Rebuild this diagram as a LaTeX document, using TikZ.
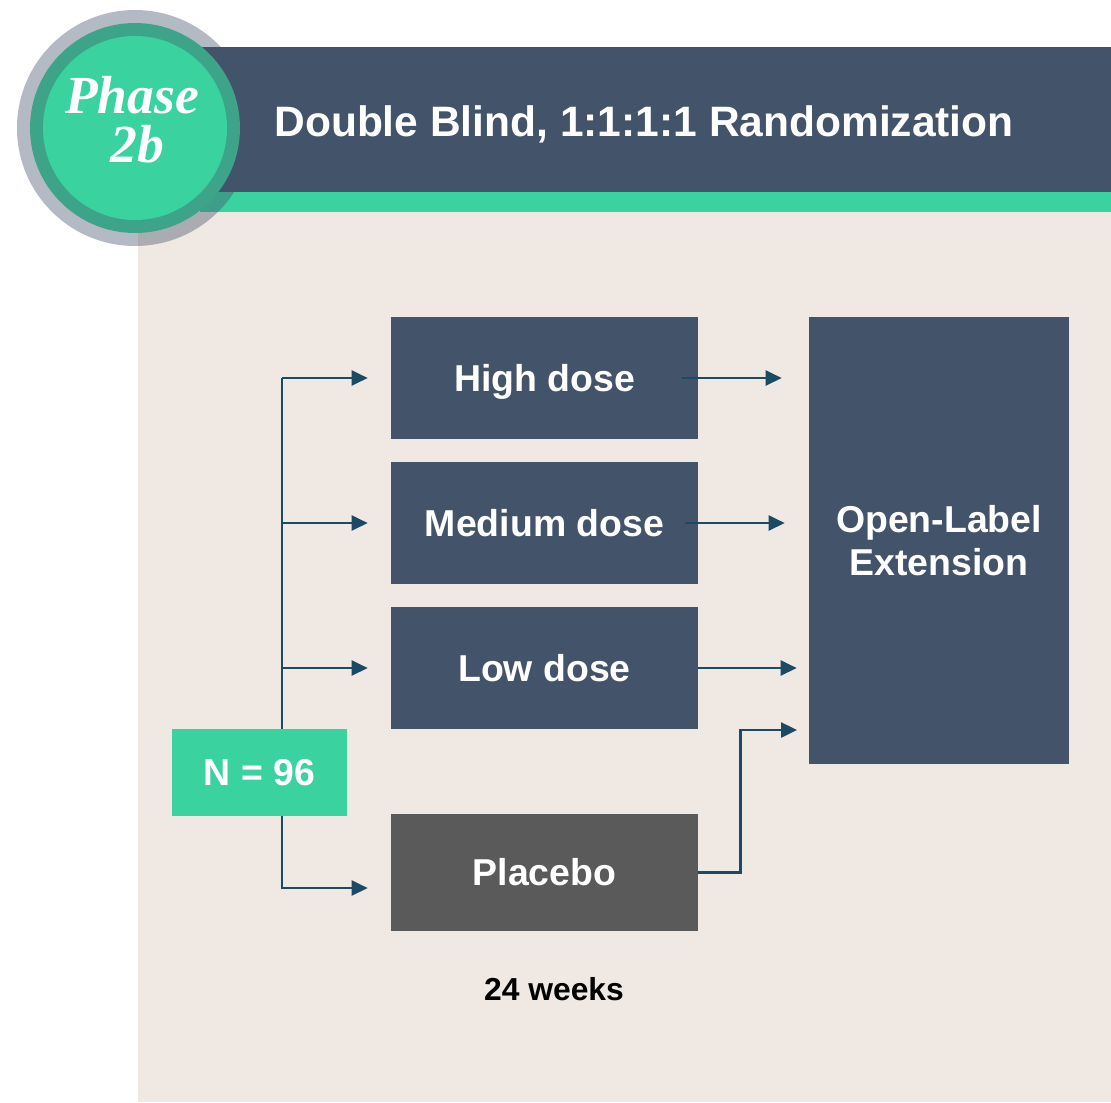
\documentclass[tikz,border=0pt]{standalone}
\usepackage{fontspec}
\setmainfont{Liberation Sans}
\newfontfamily\phasefont{Liberation Serif}
\usetikzlibrary{arrows.meta}
\definecolor{slate}{RGB}{67,83,105}
\definecolor{mint}{RGB}{58,210,159}
\definecolor{deepmint}{RGB}{61,164,138}
\definecolor{sand}{RGB}{239,232,227}
\definecolor{ink}{RGB}{26,74,100}
\definecolor{placebogray}{RGB}{90,90,90}

\tikzset{
  dosebox/.style={fill=slate, text=white, minimum width=6.14cm, minimum height=2.44cm,
    inner sep=0pt, text height=15.25pt, text depth=0pt,
    font=\bfseries\fontsize{21.3}{25}\selectfont},
  link/.style={draw=ink, line width=1.4pt},
  arr/.style={link, -{Triangle[length=0.32cm,width=0.3cm]}},
}

\begin{document}
\begin{tikzpicture}[x=0.02cm, y=-0.02cm]
    \useasboundingbox (0,0) rectangle (1111,1102);
    % fond
    \fill[white] (0,0) rectangle (1111,1102);
    \fill[sand] (138,212) rectangle (1111,1102);
    % bandeau du haut
    \fill[slate] (200,47) rectangle (1111,192);
    \fill[mint] (200,192) rectangle (1111,212);
    \node[anchor=base west, text=white, inner sep=0pt, font=\bfseries\fontsize{24.2}{29}\selectfont]
        (title) at (274,136) {Double Blind, 1:1:1:1 Randomization};
    % pastille
    \fill[slate, opacity=0.4] (135,128) circle (118);
    \fill[deepmint] (135,128) circle (105);
    \fill[mint] (135,128) circle (92);
    \node[anchor=base, text=white, inner sep=0pt, font=\phasefont\bfseries\itshape\fontsize{30.5}{32}\selectfont]
        (phase) at (132,113) {Phase};
    \node[anchor=base, text=white, inner sep=0pt, font=\phasefont\bfseries\itshape\fontsize{30.5}{32}\selectfont]
        (twob) at (137,162) {2b};

    % les bras
    \node[dosebox] (high) at (544.5,378) {High dose};
    \node[dosebox] (medium) at (544.5,523) {Medium dose};
    \node[dosebox] (low) at (544.5,668) {Low dose};
    \node[dosebox, fill=placebogray, minimum height=2.34cm] (placebo) at (544.5,872.5) {Placebo};
    \node[fill=slate, text=white, inner sep=0pt, minimum width=5.2cm, minimum height=8.94cm, align=center,
        font=\bfseries\fontsize{21.3}{24.4}\selectfont] (ole) at (939,540.5) {Open-Label\\Extension};
    \node[dosebox, fill=mint, minimum width=3.5cm, minimum height=1.74cm] (n) at (259.5,772.5) {N = 96};
    \node[font=\bfseries\fontsize{18.1}{22}\selectfont] (weeks) at (554,989) {24 weeks};

    % flèches de gauche
    \coordinate (trunk) at (282,0);
    \draw[link] (n.north -| trunk) -- (trunk |- high.west);
    \foreach \b in {high,medium,low}
        \draw[arr] (trunk |- \b.west) -- ([xshift=-0.46cm]\b.west);
    \draw[arr] (n.south -| trunk) |- ([xshift=-0.46cm,yshift=-0.31cm]placebo.west);

    % flèches de droite
    \coordinate (pl-in) at (797,730);
    \draw[arr] ([xshift=-0.32cm]high.east) -- ([xshift=-0.54cm]high.east -| ole.west);
    \draw[arr] ([xshift=-0.26cm]medium.east) -- ([xshift=-0.48cm]medium.east -| ole.west);
    \draw[arr] (low.east) -- ([xshift=-0.24cm]low.east -| ole.west);
    \draw[arr] (placebo.east) -- ++(42,0) |- (pl-in);
\end{tikzpicture}
\end{document}
